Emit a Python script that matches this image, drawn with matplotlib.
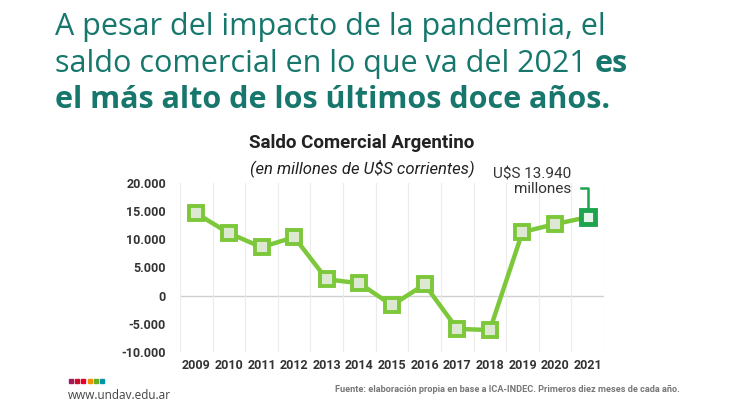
import numpy as np
import matplotlib.pyplot as plt
from matplotlib.patches import Rectangle

years = [2009, 2010, 2011, 2012, 2013, 2014, 2015, 2016, 2017, 2018, 2019, 2020, 2021]
saldo = [14600, 11100, 8600, 10400, 2900, 2200, -1700, 2000, -5900, -6100, 11300, 12700, 13940]
yticks = [-10000, -5000, 0, 5000, 10000, 15000, 20000]
ytick_labels = ['-10.000', '-5.000', '0', '5.000', '10.000', '15.000', '20.000']

teal = '#17776d'
green = '#7cc83a'
dark_green = '#1ea34f'

fig = plt.figure(figsize=(7.3, 4.11), dpi=100)
fig.patch.set_facecolor('white')

ax = fig.add_axes([180 / 730, 1 - 352 / 411, 424 / 730, 169 / 411])

# titular
fs = 22
fig.text(55 / 730, 1 - 35 / 411, 'A pesar del impacto de la pandemia, el',
         fontsize=fs, color=teal, family='Open Sans', va='baseline')
t2 = fig.text(55 / 730, 1 - 72 / 411, 'saldo comercial en lo que va del 2021 ',
              fontsize=fs, color=teal, family='Open Sans', va='baseline')
ax.annotate('es', xy=(1, 0), xycoords=t2, va='bottom', ha='left', annotation_clip=False,
            fontsize=fs, color=teal, family='Open Sans', fontweight='bold')
fig.text(55 / 730, 1 - 108 / 411, 'el más alto de los últimos doce años.',
         fontsize=fs, color=teal, family='Open Sans', fontweight='bold', va='baseline')

x = np.arange(len(years))
ax.plot(x[:-1], saldo[:-1], color=green, lw=3.2, marker='s', markersize=10,
        markerfacecolor='#dde8d3', markeredgecolor=green, markeredgewidth=2.8, zorder=3)
ax.plot(x[-2:], saldo[-2:], color=green, lw=3.2, zorder=2)
ax.plot(x[-1:], saldo[-1:], marker='s', markersize=10, markerfacecolor='#e8f3ea',
        markeredgecolor=dark_green, markeredgewidth=3.5, lw=0, zorder=4)

ax.set_xlim(-0.5, len(years) - 0.5)
ax.set_ylim(-10000, 20000)
ax.set_xticks(x)
ax.set_xticklabels([str(y) for y in years])
ax.set_yticks(yticks)
ax.set_yticklabels(ytick_labels)
ax.set_xticks(np.arange(-0.5, len(years)), minor=True)
ax.grid(axis='x', which='minor', color='#ececec', lw=0.8)
ax.axhline(0, color='#cfcfcf', lw=1, zorder=1)
ax.tick_params(which='both', length=0)
ax.tick_params(axis='x', pad=5)
ax.tick_params(axis='y', pad=10)
for lab in ax.get_xticklabels() + ax.get_yticklabels():
    lab.set_family('Roboto')
    lab.set_fontweight('bold')
    lab.set_fontsize(9)
    lab.set_color('#333333')
for s in ax.spines.values():
    s.set_visible(False)

# etiqueta del ultimo dato
last = saldo[-1]
ax.plot([x[-1] - 0.2, x[-1] + 0.0, x[-1] + 0.0], [19200, 19200, last + 600],
        color=dark_green, lw=1.8, clip_on=False, zorder=2)
ax.text(x[-1] - 0.5, 22800, 'U$S 13.940\nmillones', ha='right', va='top',
        fontsize=11, family='Roboto', color='#333333', linespacing=1.1, clip_on=False)

fig.text(362 / 730, 1 - 143 / 411, 'Saldo Comercial Argentino', ha='center', va='center',
         fontsize=13.5, family='Roboto', fontweight='bold', color='#222222')
fig.text(362 / 730, 1 - 168 / 411, '(en millones de U$S corrientes)', ha='center', va='center',
         fontsize=12, family='Roboto', style='italic', color='#222222')

fig.text(680 / 730, 1 - 389 / 411,
         'Fuente: elaboración propia en base a ICA-INDEC. Primeros diez meses de cada año.',
         ha='right', va='center', fontsize=6.6, family='Roboto', fontweight='bold', color='#777777')

# logo
dot_colors = ['#a3195b', '#c8102e', '#e4002b', '#f39200', '#6ab023', '#0095a8']
for i, c in enumerate(dot_colors):
    fig.add_artist(Rectangle(((69 + i * 6.2) / 730, 1 - 383 / 411), 4 / 730, 4 / 411,
                             transform=fig.transFigure, color=c))
fig.text(68 / 730, 1 - 395 / 411, 'www.undav.edu.ar', ha='left', va='center',
         fontsize=8.5, family='Open Sans', color='#444444')

fig.savefig('out.png', dpi=100, facecolor='white')
